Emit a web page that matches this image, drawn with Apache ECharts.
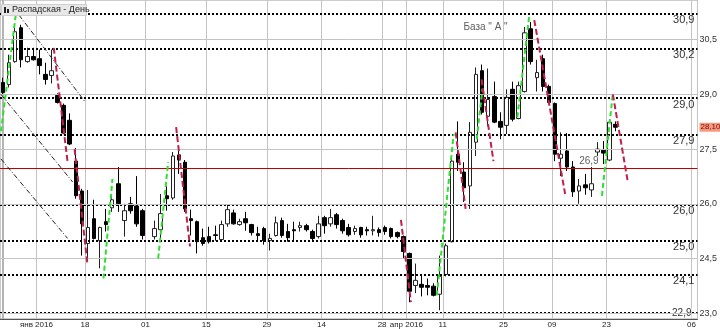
<!DOCTYPE html>
<html><head><meta charset="utf-8">
<script src="https://cdn.jsdelivr.net/npm/echarts@6/dist/echarts.min.js"></script>
<style>html,body{margin:0;padding:0;background:#fff}#c{width:720px;height:329px}</style>
</head><body><div id="c"></div>
<script>
// ---- data (daily candles, Распадская) ----
const openV = [29.33,29.27,29.90,30.83,29.90,30.04,29.98,29.55,29.52,28.97,
28.70,28.29,27.17,26.35,24.91,25.59,24.99,25.51,25.89,26.55,
25.54,26.00,25.94,25.81,null,25.10,25.29,26.22,26.16,27.34,
27.14,25.59,25.51,25.07,25.10,25.15,25.02,25.45,25.75,25.43,
25.59,25.43,25.18,25.32,24.99,25.13,25.54,25.24,25.29,25.35,
25.40,25.24,25.10,25.62,25.45,25.70,25.54,25.35,25.24,25.35,
25.29,25.26,25.29,25.35,25.32,25.21,25.10,24.64,23.76,23.79,
23.76,23.74,23.52,24.06,24.96,27.36,26.87,26.49,27.69,29.65,
28.40,28.94,28.26,28.15,29.14,28.34,29.08,30.80,29.46,29.98,
29.22,28.75,27.25,27.45,27.01,26.35,26.52,26.38,27.42,27.47,
27.20,28.18];
const closeV = [29.05,29.87,30.72,29.95,30.04,29.95,29.79,29.41,29.65,28.78,
27.94,27.64,26.22,25.45,25.35,25.05,25.35,25.43,26.11,26.00,
25.81,25.81,25.45,25.13,null,25.32,25.73,26.14,27.31,27.20,
25.86,25.54,24.96,24.91,24.96,25.13,25.43,25.84,25.45,25.51,
25.48,25.21,25.13,24.99,25.05,25.48,25.13,25.07,25.26,25.40,
25.29,25.05,25.45,25.40,25.62,25.43,25.26,25.15,25.32,25.15,
25.26,25.29,25.21,25.24,25.10,25.10,24.69,23.60,23.90,23.71,
23.71,23.49,24.01,24.85,27.17,27.14,26.44,27.96,29.55,28.51,
28.86,28.24,28.10,28.92,28.32,29.24,30.69,29.90,29.60,29.22,
28.78,27.36,27.36,27.01,26.33,26.49,26.44,26.55,27.50,27.39,
28.24,28.10];
const lowV = [29.00,29.19,29.87,29.74,29.87,29.93,29.55,29.27,29.30,28.75,
27.91,27.61,26.14,24.58,24.45,25.02,24.23,25.24,25.78,25.78,
25.10,25.73,25.37,25.02,null,25.02,25.05,25.81,26.11,26.82,
25.78,25.13,24.64,24.85,24.91,24.99,24.96,25.37,25.43,25.40,
25.26,25.13,24.99,24.88,24.72,25.10,25.07,24.96,24.96,25.24,
25.24,24.96,25.05,25.18,25.37,25.32,25.18,25.10,25.15,25.07,
25.13,25.13,25.10,25.15,25.05,25.05,24.50,23.30,23.55,23.46,
23.49,23.46,23.08,24.01,24.94,26.90,26.05,25.86,27.31,28.45,
28.13,28.21,27.77,27.91,28.26,28.32,29.05,29.82,29.08,29.08,
28.75,27.17,26.76,26.90,26.19,26.00,26.25,26.19,27.31,27.09,
27.17,27.99];
const highV = [29.46,30.09,30.83,30.91,30.28,30.28,30.23,29.87,30.23,29.03,
28.75,28.48,27.53,26.41,26.38,26.11,25.37,25.86,26.22,27.01,
26.00,26.19,26.76,25.86,null,25.54,26.27,26.49,27.42,27.50,
27.20,25.84,25.54,25.32,25.37,25.40,25.54,25.97,25.84,25.59,
25.78,25.45,25.37,25.37,25.18,25.65,25.62,25.45,25.51,25.51,
25.45,25.29,25.67,25.67,25.86,25.75,25.59,25.45,25.40,25.37,
25.37,25.67,25.35,25.40,25.35,25.24,25.13,24.66,24.36,24.04,
23.95,23.82,24.58,24.91,27.28,28.26,27.14,28.24,29.74,29.82,
29.71,29.35,28.51,29.14,29.35,29.35,30.85,30.99,29.95,30.09,
29.27,28.78,27.96,27.94,27.17,26.68,26.82,27.01,27.69,27.72,
28.32,28.26];

// x axis: trading-day slots (incl. empty future slots) and tick labels
const slotCount = 115;
const xTickIdx  = [6, 14, 24, 34, 44, 53, 63, 67, 73, 83, 91, 100, 114];
const xTickText = ['янв 2016','18','01','15','29','14','28','апр 2016','11','25','09','23','06'];

// y axis ticks (right)
const yTicks = [23.0, 24.5, 26.0, 27.5, 29.0, 30.5];

// dotted levels drawn by the analyst, and their captions
const levelVals = [31.21, 30.25, 28.90, 27.90, 25.97, 25.00, 24.05, 23.00];
const levelText = ['30,9','30,2','29,0','27,9','26,0','25,0','24,1','22,9'];
const redLevel = 26.98;
const lastPrice = 28.10;
const lastPriceText = '28,10';

// swing annotations: [x1, v1, x2, v2] in (slot index, price)
const greenSegs = [[-0.34,27.99,2.12,31.21],[16.56,23.95,18.04,26.68],[25.58,24.50,27.22,27.14],
  [71.52,23.49,74.3,27.91],[78.1,27.77,79.06,29.16],[84.8,28.37,86.77,31.18],[98.75,26.22,100.55,29.05]];
const redSegs = [[8.36,30.28,10.65,27.14],[11.8,27.50,13.94,24.31],[28.54,28.10,30.83,24.83],
  [65.61,25.56,67.25,23.30],[74.63,27.96,76.27,25.86],[78.9,29.41,80.86,27.17],
  [87.59,31.04,92.68,26.27],[100.55,29.00,103.01,26.60]];
const channelSegs = [[2.62,31.18,13.61,28.78],[-0.34,29.0,11.47,26.6],[-0.34,27.23,10.65,25.05]];

// text notes
const noteX = [79.55, 96.6];
const noteV = [30.83, 27.17];
const noteText = ['База " А "', '26,9'];

// ---- chart ----
const categories = Array.from({length: slotCount}, (_, i) => String(i));
const candles = openV.map((o, i) => o === null ? '-' : [o, closeV[i], lowV[i], highV[i]]);
const fmt = v => v.toFixed(1).replace('.', ',');
const segData = s => s.map(a => ({coords: [[a[0], a[1]], [a[2], a[3]]]}));
const FONT = 'Liberation Sans, Arial, sans-serif';
// tick labels sit on the slot boundaries (left edge of slot k => k - 0.5 on the slot scale)
const xTickPos = xTickIdx.map(k => k - 0.5);
const lastLevel = levelVals.length - 1;

const chart = echarts.init(document.getElementById('c'), null, {renderer: 'canvas'});
chart.setOption({
  animation: false,
  backgroundColor: '#fff',
  grid: {left: -1, right: 20, top: 0, bottom: 8, show: true, borderColor: '#9a9a9a', borderWidth: 1},
  xAxis: [{
    type: 'category', data: categories, boundaryGap: true, position: 'bottom',
    axisLine: {show: true, lineStyle: {color: '#555', width: 1}},
    axisTick: {show: false},
    axisLabel: {show: false},
    splitLine: {show: true, interval: idx => xTickIdx.includes(idx), lineStyle: {color: '#c4c4c4', width: 1}}
  }, {
    type: 'value', min: -0.5, max: slotCount - 0.5, position: 'bottom',
    axisLine: {show: false}, axisTick: {show: false}, splitLine: {show: false},
    axisLabel: {
      show: true, customValues: xTickPos, showMinLabel: true, showMaxLabel: true, hideOverlap: false,
      formatter: v => { const k = xTickPos.findIndex(p => Math.abs(p - v) < 0.01); return k >= 0 ? xTickText[k] : ''; },
      fontSize: 8, fontFamily: FONT, color: '#222', margin: 2
    }
  }],
  yAxis: {
    type: 'value', position: 'right', min: 22.84, max: 31.59, scale: true,
    axisLine: {show: true, lineStyle: {color: '#b4b4b4', width: 2}},
    axisTick: {show: true, length: 3, customValues: yTicks, lineStyle: {color: '#666'}},
    axisLabel: {customValues: yTicks, formatter: fmt, fontSize: 9, fontFamily: FONT, color: '#333', margin: 2},
    splitLine: {show: false}
  },
  series: [
    { // horizontal grid
      type: 'line', data: [], z: 1, silent: true,
      markLine: {silent: true, symbol: ['none', 'none'], animation: false,
        lineStyle: {color: '#c4c4c4', width: 1, type: 'solid'}, label: {show: false},
        data: yTicks.map(v => ({yAxis: v}))}
    },
    {
      type: 'candlestick', data: candles, barWidth: 4, z: 3,
      itemStyle: {color: '#ffffff', color0: '#000000', borderColor: '#222', borderColor0: '#000', borderWidth: 1},
      markLine: {silent: true, symbol: ['none', 'none'], animation: false, z: 4,
        data: [
          ...levelVals.map((v, i) => ({yAxis: v,
            lineStyle: {color: '#000', width: 2, type: [2, 2]},
            label: i === lastLevel
              ? {show: true, position: 'insideEnd', formatter: levelText[i], fontSize: 10, lineHeight: 10,
                 fontFamily: FONT, color: '#333', distance: 6, backgroundColor: '#fff', padding: [0, 0, 0, 1]}
              : {show: true, position: 'insideEndBottom', formatter: levelText[i], fontSize: 11,
                 fontFamily: FONT, color: '#333', distance: [3, 1]}})),
          {yAxis: redLevel, lineStyle: {color: '#c00000', width: 1, type: 'solid'}, label: {show: false}},
          {yAxis: lastPrice, lineStyle: {color: 'rgba(0,0,0,0)', width: 0}, label: {show: true, position: 'end', distance: 2,
            formatter: lastPriceText, fontSize: 8, fontFamily: FONT, color: '#8b0000',
            backgroundColor: '#f29a80', padding: [1, 1, 0, 1]}}
        ]}
    },
    {type: 'lines', coordinateSystem: 'cartesian2d', xAxisIndex: 1, yAxisIndex: 0, z: 5, silent: true,
      lineStyle: {color: '#2ee02e', width: 2, type: [5, 3], opacity: 1}, data: segData(greenSegs)},
    {type: 'lines', coordinateSystem: 'cartesian2d', xAxisIndex: 1, yAxisIndex: 0, z: 5, silent: true,
      lineStyle: {color: '#c0204a', width: 2, type: [6, 3], opacity: 1}, data: segData(redSegs)},
    {type: 'lines', coordinateSystem: 'cartesian2d', xAxisIndex: 1, yAxisIndex: 0, z: 5, silent: true,
      lineStyle: {color: '#222', width: 1, type: [5, 2, 1, 2], opacity: 1}, data: segData(channelSegs)},
    {type: 'scatter', xAxisIndex: 1, yAxisIndex: 0, z: 6, silent: true, symbolSize: 1,
      itemStyle: {color: 'transparent'},
      data: noteX.map((x, i) => [x, noteV[i], noteText[i]]),
      label: {show: true, position: 'inside', formatter: p => p.data[2], fontSize: 10, fontFamily: FONT, color: '#333'}}
  ],
  graphic: [
    {type: 'rect', left: 1, top: 4, shape: {width: 85, height: 11}, style: {fill: '#e8e8e8', stroke: '#cfcfcf'}, z: 10},
    {type: 'rect', left: 4, top: 7, shape: {width: 2, height: 6}, style: {fill: '#222'}, z: 11},
    {type: 'rect', left: 7, top: 9, shape: {width: 2, height: 4}, style: {fill: '#222'}, z: 11},
    {type: 'text', left: 12, top: 5, style: {text: 'Распадская - День', fontSize: 9, fontFamily: FONT, fill: '#222'}, z: 11},
    {type: 'text', left: 77, top: 4, style: {text: '⌄', fontSize: 9, fontFamily: 'DejaVu Sans', fill: '#888'}, z: 11}
  ]
});
</script></body></html>
